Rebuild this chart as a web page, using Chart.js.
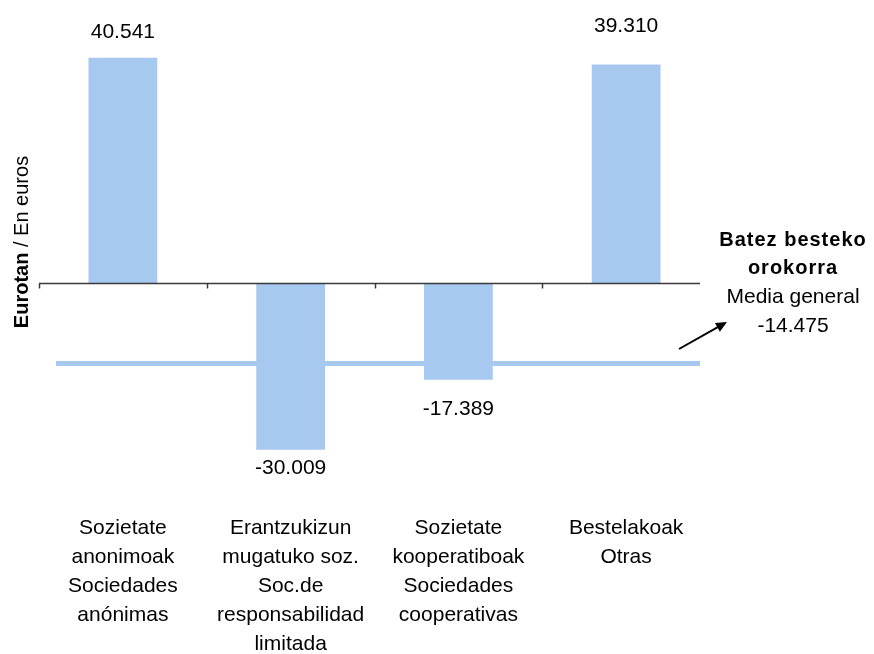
<!DOCTYPE html>
<html>
<head>
<meta charset="utf-8">
<script src="https://cdn.jsdelivr.net/npm/chart.js@4/dist/chart.umd.min.js"></script>
<style>
  html, body { margin: 0; padding: 0; background: #fff; }
  #wrap { width: 874px; height: 654px; }
</style>
</head>
<body>
<div id="wrap"><canvas id="chart" width="874" height="654"></canvas></div>
<script>
// Datuak / Datos
const categories = [
    ['Sozietate', 'anonimoak', 'Sociedades', 'anónimas'],
    ['Erantzukizun', 'mugatuko soz.', 'Soc.de', 'responsabilidad', 'limitada'],
    ['Sozietate', 'kooperatiboak', 'Sociedades', 'cooperativas'],
    ['Bestelakoak', 'Otras']
];
const values = [40541, -30009, -17389, 39310];
const averageValue = -14475;
const averageLabel = ['Batez besteko', 'orokorra', 'Media general', '-14.475'];

const barColor = '#A7C9EF';
const fontFamily = '"Liberation Sans", Arial, sans-serif';
// etiketen desplazamendua barraren muturretik (px)
const labelOffsets = [-26, 18, 30, -38];

// 40.541 formatua
function formatNumber(v) {
    const s = Math.abs(v).toString().replace(/\B(?=(\d{3})+(?!\d))/g, '.');
    return (v < 0 ? '-' : '') + s;
}

const decorPlugin = {
    id: 'decor',
    beforeDatasetsDraw(chart) {
        const ctx = chart.ctx;
        const y = chart.scales.y;
        const area = chart.chartArea;
        // batez besteko lerroa
        const yAvg = y.getPixelForValue(averageValue);
        ctx.save();
        ctx.fillStyle = barColor;
        ctx.fillRect(area.left + 17, yAvg - 2.5, area.right - 10 - (area.left + 17), 5);
        ctx.restore();
    },
    afterDatasetsDraw(chart) {
        const ctx = chart.ctx;
        const x = chart.scales.x;
        const y = chart.scales.y;
        const area = chart.chartArea;
        const y0 = Math.round(y.getPixelForValue(0)) + 0.5;

        ctx.save();
        // zero lerroa
        ctx.strokeStyle = '#3a3a3a';
        ctx.lineWidth = 1.5;
        ctx.beginPath();
        ctx.moveTo(area.left, y0);
        ctx.lineTo(area.right - 10, y0);
        ctx.stroke();
        const half = (x.getPixelForValue(1) - x.getPixelForValue(0)) / 2;
        for (let i = 0; i < categories.length; i++) {
            const tx = Math.round(x.getPixelForValue(i) - half) + 0.5;
            ctx.beginPath();
            ctx.moveTo(tx, y0);
            ctx.lineTo(tx, y0 + 5);
            ctx.stroke();
        }

        // balioak
        ctx.fillStyle = '#000';
        ctx.font = '21px ' + fontFamily;
        ctx.textAlign = 'center';
        ctx.textBaseline = 'middle';
        chart.getDatasetMeta(0).data.forEach((bar, i) => {
            ctx.fillText(formatNumber(values[i]), bar.x, bar.y + labelOffsets[i]);
        });

        // ardatzaren izenburua
        ctx.save();
        ctx.translate(22, 242);
        ctx.rotate(-Math.PI / 2);
        ctx.textBaseline = 'middle';
        ctx.textAlign = 'left';
        const part1 = 'Eurotan';
        const part2 = ' / En euros';
        ctx.font = 'bold 20px ' + fontFamily;
        const w1 = ctx.measureText(part1).width;
        ctx.font = '20px ' + fontFamily;
        const w2 = ctx.measureText(part2).width;
        const start = -(w1 + w2) / 2;
        ctx.font = 'bold 20px ' + fontFamily;
        ctx.fillText(part1, start, 0);
        ctx.font = '20px ' + fontFamily;
        ctx.fillText(part2, start + w1, 0);
        ctx.restore();

        // batez bestekoaren oharra
        const cx = 793;
        const lineYs = [240, 268, 297, 326];
        averageLabel.forEach((t, i) => {
            if (i < 2) {
                ctx.font = 'bold 20px ' + fontFamily;
                ctx.letterSpacing = '1px';
            } else {
                ctx.font = '21px ' + fontFamily;
                ctx.letterSpacing = '0px';
            }
            ctx.fillText(t, cx, lineYs[i]);
        });
        ctx.letterSpacing = '0px';

        // gezia
        const ax1 = 679, ay1 = 349, ax2 = 727, ay2 = 322;
        const ang = Math.atan2(ay2 - ay1, ax2 - ax1);
        ctx.strokeStyle = '#000';
        ctx.lineWidth = 2;
        ctx.beginPath();
        ctx.moveTo(ax1, ay1);
        ctx.lineTo(ax2 - 8 * Math.cos(ang), ay2 - 8 * Math.sin(ang));
        ctx.stroke();
        ctx.fillStyle = '#000';
        ctx.beginPath();
        ctx.moveTo(ax2, ay2);
        ctx.lineTo(ax2 - 11 * Math.cos(ang) + 5 * Math.sin(ang), ay2 - 11 * Math.sin(ang) - 5 * Math.cos(ang));
        ctx.lineTo(ax2 - 11 * Math.cos(ang) - 5 * Math.sin(ang), ay2 - 11 * Math.sin(ang) + 5 * Math.cos(ang));
        ctx.closePath();
        ctx.fill();
        ctx.restore();
    }
};

new Chart(document.getElementById('chart'), {
    type: 'bar',
    data: {
        labels: categories,
        datasets: [{
            data: values,
            backgroundColor: barColor,
            borderWidth: 0,
            barPercentage: 0.41,
            categoryPercentage: 1
        }]
    },
    options: {
        responsive: false,
        animation: false,
        layout: {
            padding: { left: 39, right: 164, top: 33, bottom: -10 }
        },
        scales: {
            x: {
                grid: { display: false },
                border: { display: false },
                ticks: {
                    color: '#000',
                    padding: 5,
                    maxRotation: 0,
                    autoSkip: false,
                    font: { family: fontFamily, size: 21, lineHeight: 1.38 }
                }
            },
            y: {
                display: false,
                min: -39240,
                max: 45000
            }
        },
        plugins: {
            legend: { display: false },
            tooltip: { enabled: false }
        }
    },
    plugins: [decorPlugin]
});
</script>
</body>
</html>
